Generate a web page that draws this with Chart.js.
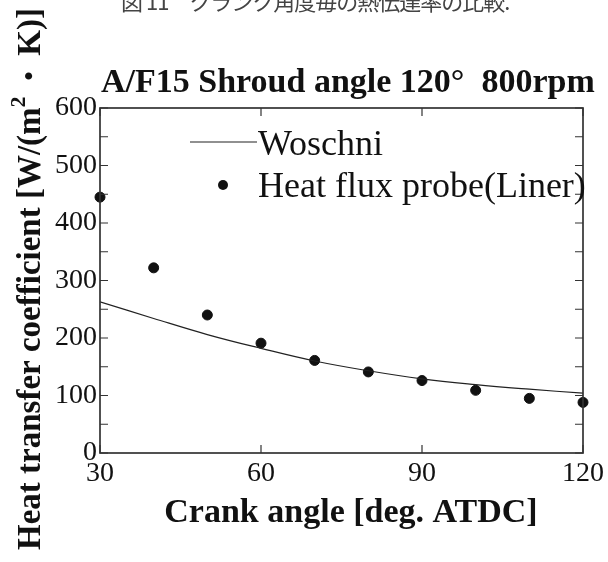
<!DOCTYPE html>
<html>
<head>
<meta charset="utf-8">
<script src="https://cdn.jsdelivr.net/npm/chart.js@4/dist/chart.umd.min.js"></script>
<style>
  html, body { margin: 0; padding: 0; background: #fff; }
  #wrap { width: 608px; height: 562px; position: relative; }
</style>
</head>
<body>
<div id="wrap"><canvas id="chart" width="608" height="562"></canvas></div>
<script>
  // data
  const crankAngle = [30, 40, 50, 60, 70, 80, 90, 100, 110, 120];
  const woschni = [263, 234, 206, 182, 160, 143, 129, 119, 111, 104];
  const probe = [445, 322, 240, 191, 161, 141, 126, 109, 95, 88];
  const xTicks = [30, 60, 90, 120];
  const yTicks = [0, 100, 200, 300, 400, 500, 600];

  const caption = "図 11　クランク角度毎の熱伝達率の比較.";
  const chartTitle = "A/F15 Shroud angle 120°  800rpm";
  const xTitle = "Crank angle [deg. ATDC]";
  const seriesNames = ["Woschni", "Heat flux probe(Liner)"];

  const SERIF = "'Liberation Serif', 'Times New Roman', serif";
  const INK = "#111";

  const toPoints = (ys) => crankAngle.map((x, i) => ({ x, y: ys[i] }));

  const frame = {
    id: "frame",
    afterDraw(chart) {
      const { ctx, chartArea: a, scales } = chart;
      ctx.save();

      // box
      ctx.strokeStyle = "#333";
      ctx.lineWidth = 1.7;
      ctx.strokeRect(a.left, a.top, a.right - a.left, a.bottom - a.top);

      // inward ticks, all four sides
      const len = 8;
      ctx.lineWidth = 1.2;
      ctx.beginPath();
      scales.x.ticks.forEach((t) => {
        const px = scales.x.getPixelForValue(t.value);
        ctx.moveTo(px, a.bottom); ctx.lineTo(px, a.bottom - len);
        ctx.moveTo(px, a.top); ctx.lineTo(px, a.top + len);
      });
      scales.y.ticks.forEach((t) => {
        const py = scales.y.getPixelForValue(t.value);
        ctx.moveTo(a.left, py); ctx.lineTo(a.left + len, py);
        ctx.moveTo(a.right, py); ctx.lineTo(a.right - len, py);
      });
      ctx.stroke();

      // caption at very top (cut off)
      ctx.font = "22px 'Noto Sans CJK JP', sans-serif";
      ctx.fillStyle = "#444";
      ctx.textAlign = "left";
      ctx.textBaseline = "alphabetic";
      ctx.letterSpacing = "-1px";
      ctx.fillText(caption, 121, 10);
      ctx.letterSpacing = "0px";

      // plot title
      ctx.fillStyle = INK;
      ctx.font = "bold 34px " + SERIF;
      ctx.fillText(chartTitle, 101, 92);

      // x axis title
      ctx.textAlign = "center";
      ctx.fillText(xTitle, 351, 522);

      // y axis title, rotated, with superscript
      ctx.save();
      ctx.translate(40, 279);
      ctx.rotate(-Math.PI / 2);
      const parts = [
        { t: "Heat transfer coefficient [W/(m", f: "bold 33px " + SERIF, dy: 0 },
        { t: "2", f: "bold 22px " + SERIF, dy: -15 },
        { t: " ・ ", f: "bold 28px 'Noto Sans CJK JP', sans-serif", dy: 0 },
        { t: "K)]", f: "bold 33px " + SERIF, dy: 0 },
      ];
      let total = 0;
      parts.forEach((p) => { ctx.font = p.f; p.w = ctx.measureText(p.t).width; total += p.w; });
      let x = -total / 2;
      ctx.textAlign = "left";
      parts.forEach((p) => { ctx.font = p.f; ctx.fillText(p.t, x, p.dy); x += p.w; });
      ctx.restore();

      // legend
      ctx.font = "36px " + SERIF;
      ctx.textAlign = "left";
      ctx.strokeStyle = "#222";
      ctx.lineWidth = 1.2;
      ctx.beginPath();
      ctx.moveTo(190, 142); ctx.lineTo(257, 142);
      ctx.stroke();
      ctx.fillText(seriesNames[0], 258, 155);
      ctx.beginPath();
      ctx.arc(223, 185, 5, 0, Math.PI * 2);
      ctx.fill();
      ctx.fillText(seriesNames[1], 258, 197);

      ctx.restore();
    },
  };

  new Chart(document.getElementById("chart"), {
    type: "scatter",
    plugins: [frame],
    data: {
      datasets: [
        {
          label: seriesNames[0],
          data: toPoints(woschni),
          showLine: true,
          tension: 0.4,
          borderColor: "#222",
          borderWidth: 1.2,
          pointRadius: 0,
          fill: false,
        },
        {
          label: seriesNames[1],
          data: toPoints(probe),
          showLine: false,
          backgroundColor: "#111",
          borderColor: "#111",
          pointRadius: 5,
          clip: false,
        },
      ],
    },
    options: {
      responsive: false,
      animation: false,
      layout: { padding: { top: 108, right: 23, left: 0, bottom: 0 } },
      plugins: {
        legend: { display: false },
        tooltip: { enabled: false },
      },
      scales: {
        x: {
          type: "linear",
          min: 30,
          max: 120,
          afterFit: (s) => { s.height = 109; },
          afterBuildTicks: (s) => { s.ticks = xTicks.map((v) => ({ value: v })); },
          grid: { display: false, drawTicks: false },
          border: { display: false },
          ticks: {
            autoSkip: false,
            maxRotation: 0,
            padding: 4,
            color: INK,
            font: { family: SERIF, size: 28 },
          },
        },
        y: {
          min: 0,
          max: 600,
          afterFit: (s) => { s.width = 100; },
          afterBuildTicks: (s) => {
            const all = [];
            for (let i = 0; i < yTicks.length; i++) {
              all.push({ value: yTicks[i] });
              if (i < yTicks.length - 1) all.push({ value: (yTicks[i] + yTicks[i + 1]) / 2 });
            }
            s.ticks = all;
          },
          grid: { display: false, drawTicks: false },
          border: { display: false },
          ticks: {
            autoSkip: false,
            padding: 3,
            color: INK,
            font: { family: SERIF, size: 28 },
            callback: (v) => (yTicks.includes(v) ? String(v) : ""),
          },
        },
      },
    },
  });
</script>
</body>
</html>
